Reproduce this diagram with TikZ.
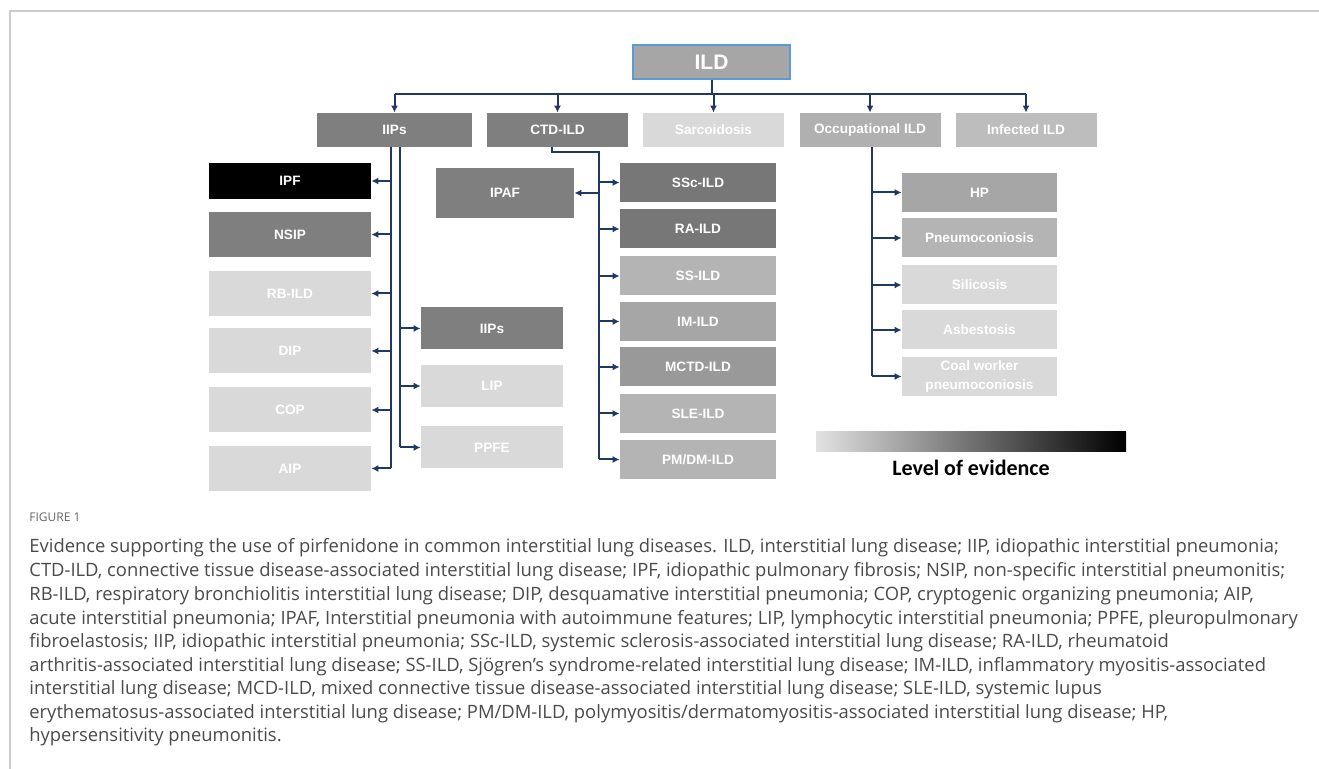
\documentclass[tikz,border=0pt]{standalone}
\usepackage{fontspec}
\setmainfont{Open Sans}
\newfontfamily\boxfam{Liberation Sans}
\newfontfamily\legfam{Carlito}
\usetikzlibrary{positioning,arrows.meta}
\definecolor{navy}{HTML}{1F3864}
\definecolor{ildblue}{HTML}{5B9BD5}
\definecolor{gB}{HTML}{7F7F7F}
\definecolor{gBd}{HTML}{777777}
\definecolor{gC}{HTML}{A6A6A6}
\definecolor{gD}{HTML}{B4B4B4}
\definecolor{gE}{HTML}{D9D9D9}
\definecolor{gM}{HTML}{999999}
\definecolor{gOcc}{HTML}{B0B0B0}
\definecolor{gInf}{HTML}{BDBDBD}
\definecolor{legL}{HTML}{E2E2E2}
\definecolor{framec}{HTML}{CCCCCC}
\definecolor{captext}{HTML}{4A4A4A}
\tikzset{
  box/.style={fill=#1, text=white, inner sep=0pt, align=center,
    font=\boxfam\bfseries\fontsize{6.8}{9.5}\selectfont},
  lvl/.style={minimum width=70.5pt, minimum height=17pt},
  colL/.style={minimum width=81pt, minimum height=22.5pt},
  colM/.style={minimum width=71pt, minimum height=21pt},
  colC/.style={minimum width=78pt, minimum height=19.5pt},
  colO/.style={minimum width=77.5pt, minimum height=19.5pt},
  link/.style={draw=navy, line width=1pt},
  arr/.style={link, -{Latex[length=3.5pt,width=3.5pt]}},
  capfig/.style={anchor=base west, inner sep=0pt, text=captext!85,
    font=\fontsize{6}{7}\selectfont},
  capline/.style={anchor=base west, inner sep=0pt, text=captext,
    font=\fontsize{9.2}{11}\selectfont}
}
\begin{document}
\begin{tikzpicture}[x=0.5pt,y=-0.5pt]
  \useasboundingbox (0,0) rectangle (1319,769);
  \draw[framec, line width=1pt] (10,769) -- (10,11) -- (1319,11);

  % top level
  \node[box=gC, draw=ildblue, line width=0.75pt, minimum width=78.5pt,
    minimum height=17pt, font=\boxfam\bfseries\fontsize{10.5}{12}\selectfont]
    (ild) at (711.5,62) {ILD};
  \node[box=gB, lvl, minimum width=77.5pt] (iips) at (394.5,130) {IIPs};
  \node[box=gB, lvl] (ctd) at (557.5,130) {CTD-ILD};
  \node[box=gE, lvl] (sarc) at (713.5,130) {Sarcoidosis};
  \node[box=gOcc, lvl] (occ) at (870,130) {Occupational ILD};
  \node[box=gInf, lvl] (inf) at (1026,130) {Infected ILD};

  % IIPs
  \node[box=black, colL, minimum height=18pt] (ipf) at (290,181) {IPF};
  \node[box=gB, colL] (nsip) at (290,234.5) {NSIP};
  \node[box=gE, colL] (rbild) at (290,293.5) {RB-ILD};
  \node[box=gE, colL] (dip) at (290,351) {DIP};
  \node[box=gE, colL] (cop) at (290,410) {COP};
  \node[box=gE, colL] (aip) at (290,468.5) {AIP};
  \node[box=gB, colM] (iipsb) at (492,328.5) {IIPs};
  \node[box=gE, colM] (lip) at (492,386) {LIP};
  \node[box=gE, colM] (ppfe) at (492,447.5) {PPFE};

  % CTD-ILD
  \node[box=gB, minimum width=69pt, minimum height=25pt] (ipaf) at (505,193) {IPAF};
  \node[box=gBd, colC] (ssc) at (698,182.5) {SSc-ILD};
  \node[box=gBd, colC] (ra) at (698,229) {RA-ILD};
  \node[box=gD, colC] (ss) at (698,276) {SS-ILD};
  \node[box=gC, colC] (im) at (698,321.5) {IM-ILD};
  \node[box=gM, colC] (mctd) at (698,367) {MCTD-ILD};
  \node[box=gD, colC] (sle) at (698,413.5) {SLE-ILD};
  \node[box=gD, colC] (pmdm) at (698,459.5) {PM/DM-ILD};

  % occupational
  \node[box=gC, colO] (hp) at (979.5,192.5) {HP};
  \node[box=gD, colO] (pneu) at (979.5,238) {Pneumoconiosis};
  \node[box=gE, colO] (sil) at (979.5,285) {Silicosis};
  \node[box=gE, colO] (asb) at (979.5,330) {Asbestosis};
  \node[box=gE, colO] (coal) at (979.5,376.5) {Coal worker\\pneumoconiosis};

  % connectors
  \coordinate (bar) at (711.5,94);
  \draw[link] (ild.south) -- (bar);
  \draw[link] (bar -| iips.north) -- (bar -| inf.north);
  \foreach \n in {iips,ctd,sarc,occ,inf}
    \draw[arr] (bar -| \n.north) -- (\n.north);

  \coordinate (sl) at (391,147);
  \coordinate (sr) at (400,147);
  \draw[link] (sl) -- (sl |- aip.east);
  \foreach \n in {ipf,nsip,rbild,dip,cop,aip}
    \draw[arr] (sl |- \n.east) -- (\n.east);
  \draw[link] (sr) -- (sr |- ppfe.west);
  \foreach \n in {iipsb,lip,ppfe}
    \draw[arr] (sr |- \n.west) -- (\n.west);

  \coordinate (cd) at (552,147);
  \coordinate (cs) at (599,152);
  \draw[link] (cd) |- (cs) -- (cs |- pmdm.west);
  \draw[arr] (cs |- ipaf.east) -- (ipaf.east);
  \foreach \n in {ssc,ra,ss,im,mctd,sle,pmdm}
    \draw[arr] (cs |- \n.west) -- (\n.west);

  \coordinate (os) at (872,147);
  \draw[link] (os) -- (os |- coal.west);
  \foreach \n in {hp,pneu,sil,asb,coal}
    \draw[arr] (os |- \n.west) -- (\n.west);

  % legend
  \node[minimum width=155pt, minimum height=10pt, inner sep=0pt,
    left color=legL, right color=black] (lev) at (971,442) {};
  \node[below=3.5pt of lev, inner sep=0pt, text=black,
    font=\legfam\bfseries\fontsize{11}{13}\selectfont] (levtxt) {Level of evidence};

  % caption
  \node[capfig] (fig) at (29,522) {FIGURE 1};
  \node[capline] (c1) at (29,553) {Evidence supporting the use of pirfenidone in common interstitial lung diseases. ILD, interstitial lung disease; IIP, idiopathic interstitial pneumonia;};
  \node[capline] (c2) at (29,577) {CTD-ILD, connective tissue disease-associated interstitial lung disease; IPF, idiopathic pulmonary fibrosis; NSIP, non-specific interstitial pneumonitis;};
  \node[capline] (c3) at (29,601) {RB-ILD, respiratory bronchiolitis interstitial lung disease; DIP, desquamative interstitial pneumonia; COP, cryptogenic organizing pneumonia; AIP,};
  \node[capline] (c4) at (29,625) {acute interstitial pneumonia; IPAF, Interstitial pneumonia with autoimmune features; LIP, lymphocytic interstitial pneumonia; PPFE, pleuropulmonary};
  \node[capline] (c5) at (29,648) {fibroelastosis; IIP, idiopathic interstitial pneumonia; SSc-ILD, systemic sclerosis-associated interstitial lung disease; RA-ILD, rheumatoid};
  \node[capline] (c6) at (29,672) {arthritis-associated interstitial lung disease; SS-ILD, Sjögren’s syndrome-related interstitial lung disease; IM-ILD, inflammatory myositis-associated};
  \node[capline] (c7) at (29,695) {interstitial lung disease; MCD-ILD, mixed connective tissue disease-associated interstitial lung disease; SLE-ILD, systemic lupus};
  \node[capline] (c8) at (29,719) {erythematosus-associated interstitial lung disease; PM/DM-ILD, polymyositis/dermatomyositis-associated interstitial lung disease; HP,};
  \node[capline] (c9) at (29,742) {hypersensitivity pneumonitis.};
\end{tikzpicture}
\end{document}
